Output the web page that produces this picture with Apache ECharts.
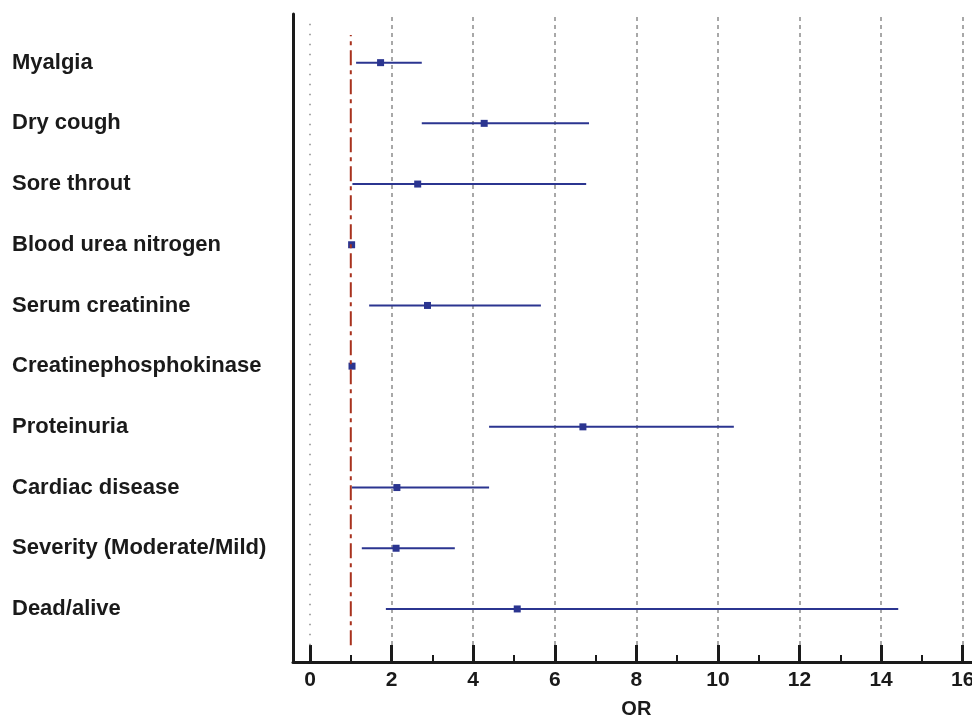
<!DOCTYPE html>
<html>
<head>
<meta charset="utf-8">
<script src="https://cdn.jsdelivr.net/npm/echarts@6/dist/echarts.min.js"></script>
<style>
  html, body { margin: 0; padding: 0; background: #fff; }
  #main { width: 972px; height: 719px; }
</style>
</head>
<body>
<div id="main"></div>
<script>
// forest plot, odds ratio with 95% CI
var factors = ['Myalgia', 'Dry cough', 'Sore throut', 'Blood urea nitrogen', 'Serum creatinine',
  'Creatinephosphokinase', 'Proteinuria', 'Cardiac disease', 'Severity (Moderate/Mild)', 'Dead/alive'];
var orValue = [1.73, 4.27, 2.64, 1.02, 2.88, 1.03, 6.69, 2.13, 2.11, 5.08];
var ciLower = [1.13, 2.74, 1.04, 1.00, 1.45, 1.01, 4.39, 1.03, 1.27, 1.86];
var ciUpper = [2.74, 6.84, 6.77, 1.04, 5.66, 1.05, 10.39, 4.39, 3.55, 14.42];

var rows = [];
for (var i = 0; i < factors.length; i++) {
  rows.push([i, ciLower[i], orValue[i], ciUpper[i]]);
}

var myChart = echarts.init(document.getElementById('main'));
var blue = '#2b3590';
var black = '#1a1a1a';
var font = 'Liberation Sans, Arial, sans-serif';

var option = {
  animation: false,
  grid: [
    // frame (axis lines)
    { left: 293, right: 0, top: 14, bottom: 57, outerBoundsMode: 'none', containLabel: false },
    // OR scale
    { left: 310, right: 9.3, top: 17, bottom: 57, outerBoundsMode: 'none', containLabel: false },
    // rows
    { left: 310, right: 9.3, top: 32.3, bottom: 79.7, outerBoundsMode: 'none', containLabel: false }
  ],
  xAxis: [
    {
      gridIndex: 0, type: 'value', min: 0, max: 1,
      axisLine: { show: true, onZero: false, lineStyle: { color: black, width: 3 } },
      axisTick: { show: false }, axisLabel: { show: false }, splitLine: { show: false }
    },
    {
      gridIndex: 1, type: 'value', min: 0, max: 16, interval: 2,
      name: 'OR', nameLocation: 'middle', nameGap: 37,
      nameTextStyle: { fontFamily: font, fontWeight: 'bold', fontSize: 20, color: black },
      axisLine: { show: true, onZero: false, lineStyle: { color: black, width: 3 } },
      axisTick: { show: true, inside: true, length: 17, lineStyle: { color: black, width: 3 } },
      minorTick: { show: true, splitNumber: 2, length: 7, lineStyle: { color: black, width: 2 } },
      axisLabel: { margin: 8, fontFamily: font, fontWeight: 'bold', fontSize: 21, color: black, hideOverlap: false },
      splitLine: { show: true, showMinLine: false, lineStyle: { color: '#8c8c8c', width: 1.5, type: [4, 4] } }
    },
    {
      gridIndex: 2, type: 'value', min: 0, max: 16, show: false
    }
  ],
  yAxis: [
    {
      gridIndex: 0, type: 'value', min: 0, max: 1,
      axisLine: { show: true, onZero: false, lineStyle: { color: black, width: 3 } },
      axisTick: { show: false }, axisLabel: { show: false }, splitLine: { show: false }
    },
    {
      gridIndex: 1, type: 'value', min: 0, max: 1, show: false
    },
    {
      gridIndex: 2, type: 'category', data: factors, inverse: true,
      axisLine: { show: false }, axisTick: { show: false }, splitLine: { show: false },
      axisLabel: { align: 'left', margin: 298, fontFamily: font, fontWeight: 'bold', fontSize: 22, color: black }
    }
  ],
  series: [
    {
      // dotted line at 0
      type: 'line', xAxisIndex: 1, yAxisIndex: 1,
      data: [[0, 0.026], [0, 0.99]],
      symbol: 'none', silent: true,
      lineStyle: { color: '#8c8c8c', width: 1.5, type: [1.5, 8.5] }
    },
    {
      // reference line at OR = 1
      type: 'line', xAxisIndex: 1, yAxisIndex: 1,
      data: [[1, 0.026], [1, 0.972]],
      symbol: 'none', silent: true,
      lineStyle: { color: '#a8321e', width: 2, type: [15, 5, 4, 5] }
    },
    {
      type: 'custom', xAxisIndex: 2, yAxisIndex: 2,
      data: rows,
      encode: { x: [1, 2, 3], y: 0 },
      renderItem: function (params, api) {
        var row = api.value(0);
        var lo = api.coord([api.value(1), row]);
        var pt = api.coord([api.value(2), row]);
        var hi = api.coord([api.value(3), row]);
        return {
          type: 'group',
          children: [
            {
              type: 'line',
              shape: { x1: lo[0], y1: lo[1], x2: hi[0], y2: hi[1] },
              style: { stroke: blue, lineWidth: 2 }
            },
            {
              type: 'rect',
              shape: { x: pt[0] - 3.5, y: pt[1] - 3.5, width: 7, height: 7 },
              style: { fill: blue }
            }
          ]
        };
      }
    }
  ]
};
myChart.setOption(option);
</script>
</body>
</html>
